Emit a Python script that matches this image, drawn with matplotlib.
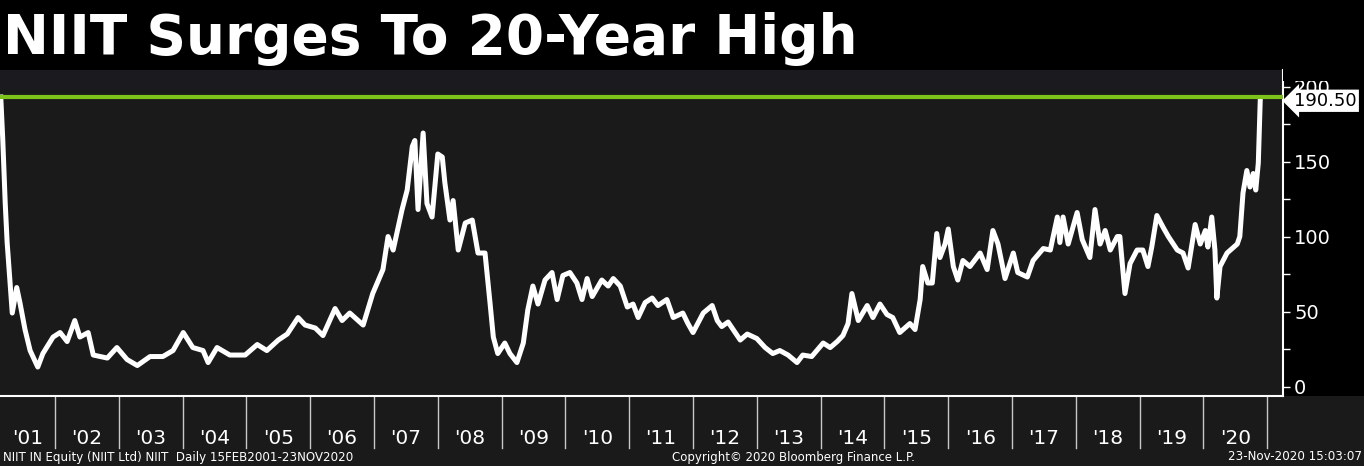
import matplotlib.pyplot as plt
from matplotlib.patches import Rectangle
from matplotlib.transforms import blended_transform_factory

# NIIT price (decimal year, INR)
years = [2001.15, 2001.18, 2001.22, 2001.25, 2001.33, 2001.40, 2001.45, 2001.53, 2001.61, 2001.73,
         2001.81, 2001.97, 2002.08, 2002.19, 2002.31, 2002.39, 2002.52, 2002.60, 2002.82, 2002.97,
         2003.13, 2003.29, 2003.49, 2003.69, 2003.85, 2004.01, 2004.16, 2004.32, 2004.40, 2004.54,
         2004.74, 2004.98, 2005.17, 2005.32, 2005.50, 2005.64, 2005.81, 2005.92, 2006.08, 2006.20,
         2006.39, 2006.50, 2006.62, 2006.83, 2006.98, 2007.14, 2007.22, 2007.30, 2007.44, 2007.52,
         2007.60, 2007.64, 2007.69, 2007.77, 2007.83, 2007.91, 2008.00, 2008.07, 2008.11, 2008.19,
         2008.24, 2008.32, 2008.43, 2008.54, 2008.63, 2008.74, 2008.82, 2008.87, 2008.94, 2009.05,
         2009.13, 2009.24, 2009.34, 2009.41, 2009.49, 2009.57, 2009.68, 2009.79, 2009.87, 2009.96,
         2010.07, 2010.18, 2010.26, 2010.34, 2010.42, 2010.57, 2010.67, 2010.75, 2010.86, 2010.97,
         2011.06, 2011.14, 2011.25, 2011.36, 2011.45, 2011.59, 2011.69, 2011.84, 2011.92, 2012.00,
         2012.16, 2012.30, 2012.38, 2012.45, 2012.55, 2012.74, 2012.85, 2013.00, 2013.13, 2013.25,
         2013.36, 2013.49, 2013.63, 2013.72, 2013.86, 2014.04, 2014.15, 2014.26, 2014.35, 2014.43,
         2014.49, 2014.59, 2014.73, 2014.82, 2014.93, 2015.04, 2015.13, 2015.24, 2015.40, 2015.48,
         2015.56, 2015.60, 2015.68, 2015.75, 2015.82, 2015.87, 2015.95, 2016.00, 2016.08, 2016.15,
         2016.23, 2016.34, 2016.50, 2016.61, 2016.70, 2016.78, 2016.89, 2017.02, 2017.09, 2017.24,
         2017.33, 2017.49, 2017.60, 2017.71, 2017.75, 2017.80, 2017.88, 2018.02, 2018.10, 2018.22,
         2018.30, 2018.38, 2018.46, 2018.54, 2018.65, 2018.69, 2018.77, 2018.85, 2018.96, 2019.05,
         2019.13, 2019.19, 2019.27, 2019.37, 2019.45, 2019.59, 2019.68, 2019.76, 2019.87, 2019.95,
         2020.03, 2020.07, 2020.13, 2020.18, 2020.21, 2020.26, 2020.37, 2020.53, 2020.57, 2020.62,
         2020.68, 2020.73, 2020.78, 2020.82, 2020.86, 2020.89]
prices = [193, 166, 122, 96, 49, 66, 56, 38, 24, 13,
          22, 33, 36, 30, 44, 33, 36, 21, 19, 26,
          18, 14, 20, 20, 24, 36, 26, 24, 16, 26,
          21, 21, 28, 24, 31, 35, 46, 41, 39, 34,
          52, 44, 49, 41, 62, 78, 100, 91, 118, 131,
          160, 164, 118, 169, 122, 113, 155, 153, 136, 111,
          124, 91, 109, 111, 89, 89, 55, 33, 22, 29,
          22, 16, 29, 51, 67, 55, 71, 76, 58, 74,
          76, 69, 58, 72, 60, 71, 67, 72, 67, 53,
          55, 46, 56, 59, 54, 58, 46, 49, 42, 36,
          49, 54, 44, 40, 43, 31, 35, 32, 26, 22,
          24, 21, 16, 21, 20, 29, 26, 30, 34, 42,
          62, 44, 54, 46, 55, 48, 46, 36, 42, 38,
          58, 80, 69, 69, 102, 86, 95, 105, 80, 71,
          84, 80, 89, 78, 104, 95, 72, 89, 76, 73,
          84, 92, 91, 113, 96, 113, 95, 116, 98, 86,
          118, 95, 104, 91, 100, 100, 62, 82, 91, 91,
          80, 93, 114, 106, 100, 91, 89, 79, 108, 95,
          104, 93, 113, 91, 59, 80, 89, 95, 100, 129,
          144, 133, 142, 131, 149, 190.5]

high_level = 193.2
last_label = "190.50"
year_labels = ["'01", "'02", "'03", "'04", "'05", "'06", "'07", "'08", "'09", "'10",
               "'11", "'12", "'13", "'14", "'15", "'16", "'17", "'18", "'19", "'20"]
year_starts = list(range(2001, 2021))

title = "NIIT Surges To 20-Year High"
footer_left = "NIIT IN Equity (NIIT Ltd) NIIT  Daily 15FEB2001-23NOV2020"
footer_mid = "Copyright\u00a9 2020 Bloomberg Finance L.P."
footer_right = "23-Nov-2020 15:03:07"

W, H = 1364, 466
fig = plt.figure(figsize=(W / 100, H / 100), dpi=100, facecolor='#1a1a1a')

# black title bar and right-hand axis strip
fig.add_artist(Rectangle((0, 1 - 70 / H), 1, 70 / H, transform=fig.transFigure,
                         facecolor='black', edgecolor='none', zorder=0))
fig.add_artist(Rectangle((1283 / W, 1 - 396 / H), 81 / W, 396 / H, transform=fig.transFigure,
                         facecolor='black', edgecolor='none', zorder=0))

ax = fig.add_axes([0, 1 - 396 / H, 1283 / W, 326 / H])
ax.set_facecolor('#1a1a1a')
ax.axhspan(197.7, 215, color='#1b1b1f', lw=0, zorder=0)

ax.plot(years, prices, color='white', lw=3.6, solid_joinstyle='round', zorder=3)
ax.axhline(high_level, color='#7ec31b', lw=3, zorder=4)

ax.set_xlim(2001.138, 2021.247)
ax.set_ylim(-6.3, 211)

# right y axis
ax.yaxis.tick_right()
ax.set_yticks([0, 50, 100, 150, 200])
ax.set_yticks([25, 75, 125, 175], minor=True)
ax.tick_params(axis='y', which='both', colors='white', direction='out', length=5, width=1,
               labelsize=14, pad=3)
ax.tick_params(axis='x', bottom=False, labelbottom=False)
for side in ['top', 'left']:
    ax.spines[side].set_visible(False)
for side in ['right', 'bottom']:
    ax.spines[side].set_color('white')
    ax.spines[side].set_linewidth(1.5)

# last price callout
ax.annotate(last_label, xy=(1.0, prices[-1]), xycoords=('axes fraction', 'data'),
            xytext=(8, 0), textcoords='offset points', ha='left', va='center',
            fontsize=13, color='black', annotation_clip=False, zorder=10,
            bbox=dict(boxstyle='larrow,pad=0.12', fc='white', ec='none'))

# year band below the plot
trans = blended_transform_factory(ax.transData, ax.transAxes)
for y0 in year_starts[1:] + [2021]:
    ax.plot([y0, y0], [0, -52 / 326], transform=trans, color='#c8c8c8', lw=1, clip_on=False)
for y0, lab in zip(year_starts, year_labels):
    xc = max(y0 + 0.5, 2001.57)
    ax.text(xc, -42 / 326, lab, transform=trans, ha='center', va='center',
            color='white', fontsize=14.5, clip_on=False)

# clip top of the '200' label under the title bar
fig.add_artist(Rectangle((1283 / W, 1 - 81 / H), 81 / W, 81 / H, transform=fig.transFigure,
                         facecolor='black', edgecolor='none', zorder=20))

fig.text(3 / W, 1 - 54 / H, title, color='white', fontsize=39.5, fontweight='bold',
         va='baseline', ha='left')
fig.text(3 / W, 1 - 457 / H, footer_left, color='white', fontsize=8.6, va='center', ha='left')
fig.text(793 / W, 1 - 457 / H, footer_mid, color='white', fontsize=8.5, va='center', ha='center')
fig.text(1362 / W, 1 - 457 / H, footer_right, color='white', fontsize=8.6, va='center', ha='right')

fig.savefig('out.png', dpi=100, facecolor=fig.get_facecolor())
